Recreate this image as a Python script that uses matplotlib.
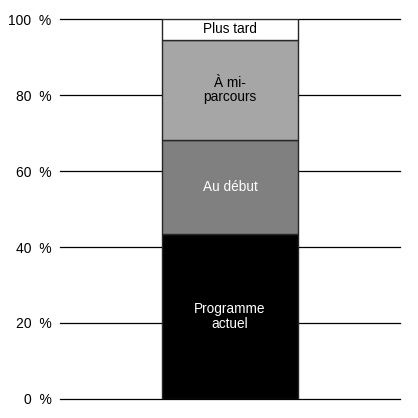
import matplotlib.pyplot as plt
import numpy as np

plt.rcParams['font.family'] = ['Liberation Sans', 'DejaVu Sans']

# data
segments = ['Programme\nactuel', 'Au début', 'À mi-\nparcours', 'Plus tard']
values = [43.3, 24.8, 26.4, 5.5]
colors = ['#000000', '#808080', '#a6a6a6', '#ffffff']
text_colors = ['white', 'white', 'black', 'black']
yticks = [0, 20, 40, 60, 80, 100]
ytick_labels = ['0  %', '20  %', '40  %', '60  %', '80  %', '100  %']

fig = plt.figure(figsize=(4.18, 4.18), dpi=100)
ax = fig.add_axes([60 / 418, 19 / 418, 340 / 418, 380 / 418])

for y in yticks:
    ax.axhline(y, color='black', lw=0.9, zorder=0, clip_on=False)

bottom = 0
for lab, v, c, tc in zip(segments, values, colors, text_colors):
    ax.bar(0, v, bottom=bottom, width=0.4, color=c, edgecolor='#262626', lw=1, zorder=2)
    ax.text(0, bottom + v / 2, lab, ha='center', va='center', color=tc,
            fontsize=9.8, linespacing=1.05, zorder=3)
    bottom += v

ax.set_xlim(-0.5, 0.5)
ax.set_ylim(0, 100)
ax.set_yticks(yticks)
ax.set_yticklabels(ytick_labels, fontsize=10)
ax.set_xticks([])
ax.tick_params(axis='y', length=0, pad=6)
for s in ax.spines.values():
    s.set_visible(False)

fig.savefig('out.png', dpi=100)
